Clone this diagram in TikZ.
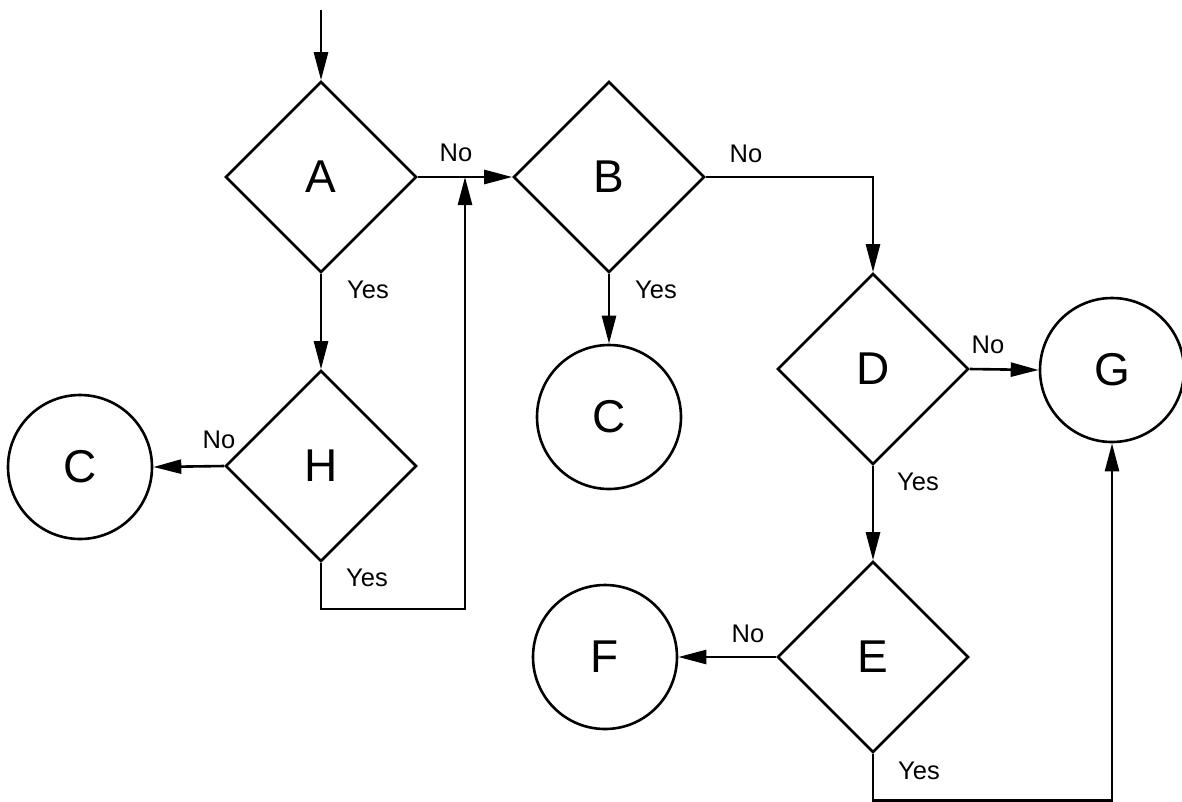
\documentclass[tikz,border=0pt]{standalone}
\usepackage{fontspec}
\setmainfont{Liberation Sans}
\usetikzlibrary{shapes.geometric,arrows.meta}
\begin{document}
\begin{tikzpicture}[x=1pt,y=-1pt,
  line width=2.6pt,
  dec/.style={draw,diamond,aspect=1,inner sep=0pt,minimum width=191pt,minimum height=191pt,font=\fontsize{46}{50}\selectfont},
  term/.style={draw,circle,inner sep=0pt,minimum size=144pt,font=\fontsize{46}{50}\selectfont},
  lbl/.style={inner sep=0pt,font=\fontsize{25.5}{30}\selectfont},
  arr/.style={-{Triangle[length=28pt,width=14pt]}}
]
\useasboundingbox (0,0) rectangle (1182,801);
% decision nodes
\node[dec] (A) at (321,177) {A};
\node[dec] (B) at (609,177) {B};
\node[dec] (H) at (321,466) {H};
\node[dec] (D) at (873,369) {D};
\node[dec] (E) at (873,657) {E};
% terminal nodes
\node[term] (C1) at (80,467) {C};
\node[term] (C2) at (609,417) {C};
\node[term] (G) at (1112,370) {G};
\node[term] (F) at (605,657) {F};
% helper coordinates
\coordinate (start) at (321,10);
\coordinate (j) at (465,177);
\coordinate (hb) at (321,609);
\coordinate (eb) at (873,800.3);
% connectors
\draw[arr] (start) -- (A.north);
\draw[arr] (A.east) -- (B.west);
\draw[arr] (A.south) -- (H.north);
\draw[arr] (H.west) -- (C1.east);
\draw[arr] (H.south) -- (hb) -| (j);
\draw[arr] (B.south) -- (C2.north);
\draw[arr] (B.east) -| (D.north);
\draw[arr] (D.east) -- (G.west);
\draw[arr] (D.south) -- (E.north);
\draw[arr] (E.west) -- (F.east);
\draw[arr] (E.south) -- (eb) -| (G.south);
% labels
\node[lbl] (lAno) at (456,153) {No};
\node[lbl] (lAyes) at (368,290) {Yes};
\node[lbl] (lHno) at (219,440) {No};
\node[lbl] (lHyes) at (367,578) {Yes};
\node[lbl] (lBno) at (746,154) {No};
\node[lbl] (lByes) at (656,290) {Yes};
\node[lbl] (lDno) at (988,345) {No};
\node[lbl] (lDyes) at (918,482) {Yes};
\node[lbl] (lEno) at (748,634) {No};
\node[lbl] (lEyes) at (919,771) {Yes};
\end{tikzpicture}
\end{document}
